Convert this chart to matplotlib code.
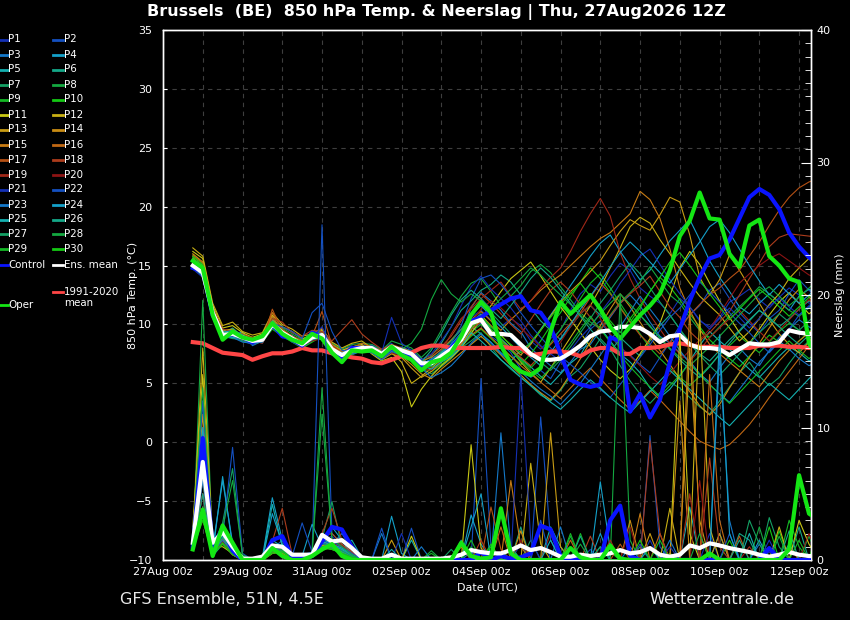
import numpy as np
import matplotlib
matplotlib.use("Agg")
import matplotlib.pyplot as plt
from matplotlib.lines import Line2D
from matplotlib.ticker import MultipleLocator

# ---------------- data ----------------
# time: days since 27Aug 00z; first value at 27Aug 18z, 6-hourly steps
t_first = 0.75
t_step = 0.25
date_ticks = [0, 2, 4, 6, 8, 10, 12, 14, 16]
date_labels = ["27Aug 00z", "29Aug 00z", "31Aug 00z", "02Sep 00z", "04Sep 00z",
               "06Sep 00z", "08Sep 00z", "10Sep 00z", "12Sep 00z"]

ens_mean_temp = [15.0,14.4,11.0,9.1,9.2,8.9,8.6,8.7,10.0,9.3,8.8,8.3,8.9,9.1,7.9,7.4,7.8,8.0,8.0,7.5,8.1,7.8,7.5,6.7,6.7,7.3,7.9,8.7,
                 10.1,10.4,9.2,9.2,9.1,8.3,7.5,7.0,7.0,7.1,7.6,8.2,9.0,9.4,9.5,9.8,9.8,9.7,9.2,8.5,9.0,9.1,8.3,8.0,8.0,7.9,7.4,7.9,8.4,8.3,8.3,8.5,9.5,9.3,9.2,9.2]
control_temp = [14.8,14.5,10.8,9.0,9.2,8.9,8.5,8.8,10.0,9.0,8.8,8.2,9.3,9.0,7.6,7.2,8.0,8.0,7.8,7.3,8.0,7.5,7.3,6.5,6.8,7.2,8.0,9.0,
                10.3,10.6,11.2,11.7,12.2,12.4,11.2,11.0,9.8,7.5,5.3,4.9,4.7,4.9,8.9,8.6,2.6,4.1,2.1,3.6,6.8,9.6,12.0,14.0,15.6,15.9,17.2,19.0,20.8,21.5,21.0,19.8,17.8,16.6,15.7,15.0]
oper_temp = [15.4,14.8,10.8,8.7,9.4,8.9,8.7,9.0,10.1,9.2,8.7,8.4,9.2,8.8,7.6,6.8,7.8,7.7,7.8,7.3,8.1,7.4,7.0,6.1,6.8,7.0,7.6,9.0,
             10.8,11.9,11.0,8.2,6.7,6.0,5.7,6.3,9.4,11.9,10.9,11.7,12.5,11.3,9.8,8.8,9.8,10.8,11.6,12.6,14.6,17.5,18.8,21.2,19.0,18.9,16.0,14.9,18.4,18.9,15.8,15.0,13.9,13.6,8.4,7.0]
clim_temp = [8.5,8.4,8.0,7.6,7.5,7.4,7.0,7.3,7.55,7.55,7.7,8.0,7.8,7.8,7.55,7.4,7.2,7.1,6.8,6.7,7.0,7.3,7.6,8.0,8.2,8.2,8.0,8.0,
             8.0,8.0,8.0,8.1,8.0,8.0,7.4,7.5,7.7,7.7,7.6,7.3,7.8,8.0,8.0,7.5,7.5,8.0,8.0,8.1,8.3,8.4,8.25,8.1,8.1,8.1,8.0,8.0,8.0,8.2,8.2,8.2,8.1,8.1,8.0,8.0]

ens_mean_prec = [1.3,7.4,1.3,2.1,1.0,0.1,0.1,0.25,1.1,1.0,0.4,0.4,0.4,1.9,1.4,1.5,0.9,0.2,
                 0.1,0.1,0.4,0.1,0.1,0.1,0.1,0.1,0.2,0.4,
                 0.75,0.6,0.5,0.5,0.75,1.1,0.75,0.9,0.6,0.25,
                 0.25,0.4,0.3,0.4,0.5,0.75,0.5,0.6,0.9,0.4,
                 0.25,0.4,1.1,0.9,1.26,1.1,0.9,0.75,0.6,0.4,
                 0.25,0.4,0.6,0.4,0.3,0.3]
control_prec = [1.0,9.2,1.0,2.4,0.7,0,0,0,1.5,1.8,0.2,0.2,0.3,1.4,2.5,2.3,1.0,0.1,
                0,0,0,0,0,0,0,0,0,0,
                0,0.6,0,0.3,0.1,0.2,0.5,2.6,2.3,0.3,
                0,0.1,0,0,3.0,4.1,0.3,0,0,0,
                0,0,0,0,0,0,0,0,0,0,
                0.9,0,0,0,0,0]
oper_prec = [0.8,3.8,0.3,2.6,1.3,0,0,0,0.9,0.3,0,0,0.3,0.8,1.2,0.3,0,0,
             0,0,0,0,0,0,0,0,0,1.3,
             0.3,0.1,0.2,3.9,0.5,0,0,0,0,0,
             0.9,0.2,0,0,1.1,0.1,0,0,0,0,
             0,0,0,0,0.5,0,0,0,0,0,
             0,0,0.8,6.4,3.5,3.0]

# members: 850 hPa temperature
p01_t = [15.2,14.6,10.8,9.3,8.9,9.1,8.4,8.9,9.8,9.5,8.6,8.5,9.4,8.7,7.6,7.8,8.2,7.6,8.3,7.9,8.4,7.5,7.1,6.2,6.9,7.8,8.6,9.5,
         10.6,11.2,10.4,9.8,10.5,9.9,8.6,7.9,8.8,9.5,11.2,12.6,13.4,12.8,14.1,15.2,14.6,13.1,12.4,11.8,10.9,12.2,11.5,10.3,9.8,10.6,11.9,12.4,13.0,12.1,11.4,12.3,13.1,12.5,11.8,12.0]
p02_t = [15.0,14.3,11.4,9.0,9.6,8.7,8.8,8.5,10.3,9.1,9.0,8.0,8.6,9.4,8.1,7.2,7.5,8.3,7.7,7.2,7.9,8.1,7.7,6.9,6.4,7.0,7.4,8.2,
         9.6,10.1,9.0,8.4,7.6,6.2,5.5,6.1,5.4,6.8,7.5,8.2,9.6,10.3,9.1,8.0,7.4,6.6,5.9,7.2,8.5,9.9,10.8,11.6,12.9,13.5,12.2,11.0,10.1,9.3,10.5,11.2,12.6,13.8,12.9,12.2]
p03_t = [15.5,14.9,10.6,8.8,9.0,9.4,8.2,8.6,10.4,9.6,8.5,8.6,9.1,8.8,7.7,7.5,7.6,8.2,8.1,7.4,8.3,7.7,7.3,6.5,7.1,7.6,8.2,9.1,
         11.4,12.7,12.0,11.2,10.1,9.4,8.0,7.2,6.5,5.9,6.8,7.9,8.3,9.5,10.6,11.8,12.5,11.6,10.2,9.0,8.4,7.6,6.9,5.8,5.1,6.3,7.4,8.0,7.1,6.5,7.8,8.9,9.6,10.4,9.8,9.3]
p04_t = [14.8,14.1,11.2,9.3,9.4,8.6,8.9,8.8,9.7,9.0,9.1,8.1,8.8,9.2,8.2,7.1,7.9,7.8,7.9,7.6,7.7,8.0,7.8,7.1,6.6,7.2,7.7,8.5,
         9.8,9.2,8.5,7.6,6.9,7.8,8.4,9.6,10.8,12.0,13.3,14.5,15.8,16.9,17.6,16.2,15.0,13.8,14.6,15.9,17.1,18.0,18.9,17.2,15.4,14.0,12.8,11.5,10.9,11.8,12.6,11.9,11.2,12.4,13.0,12.5]
p05_t = [15.3,14.7,11.0,9.6,9.1,8.8,8.7,8.4,10.1,9.4,8.7,8.4,9.0,8.9,7.8,7.6,7.7,7.9,7.8,7.3,8.0,7.6,7.4,6.6,6.9,7.5,8.1,8.9,
         10.2,10.9,9.6,8.8,8.0,7.1,6.4,5.6,4.9,5.8,6.7,7.4,8.9,9.7,8.6,7.5,6.8,5.9,4.6,3.8,4.5,5.6,6.9,8.2,9.4,8.6,7.9,7.0,6.2,5.5,6.4,7.3,8.1,7.6,6.9,7.4]
p06_t = [15.6,15.0,11.5,9.2,9.7,9.0,8.5,8.9,10.6,9.2,8.9,8.3,8.7,9.0,7.5,7.3,8.0,8.1,8.2,7.7,8.2,7.9,7.6,6.8,7.3,8.4,9.8,11.2,
         12.0,12.9,13.4,14.2,13.6,12.5,11.4,10.3,9.5,8.7,9.8,10.9,11.6,10.8,9.7,8.9,8.1,7.3,8.6,9.9,10.8,9.6,8.3,7.5,6.9,7.8,8.7,9.5,10.4,11.2,10.6,9.8,10.5,11.3,12.0,11.6]
p07_t = [14.9,14.2,10.9,9.0,8.8,8.7,8.3,8.6,9.9,9.5,8.6,8.2,8.8,9.3,8.0,7.7,7.4,7.8,8.0,7.2,7.8,7.4,7.0,6.3,5.8,6.4,7.1,8.0,
         8.6,9.3,8.1,7.0,6.2,5.5,4.8,4.0,3.5,4.4,5.6,6.3,7.5,8.8,7.9,6.5,5.2,4.1,3.3,4.2,5.1,4.6,3.8,3.0,2.4,3.5,4.7,5.9,6.8,5.6,4.8,5.5,6.7,7.8,8.6,8.0]
p08_t = [15.1,14.5,11.3,9.4,9.3,9.2,8.8,9.0,10.5,9.7,9.2,8.7,9.3,9.2,8.4,7.9,8.3,8.4,8.3,7.8,8.6,8.3,8.0,7.2,8.0,9.5,11.0,12.4,
         13.5,13.9,12.8,11.6,12.4,13.3,14.5,15.1,14.4,13.2,12.1,11.0,10.2,9.6,10.8,11.9,12.7,13.6,14.9,13.7,12.5,11.8,10.6,9.5,8.9,9.8,10.7,11.5,12.3,13.2,12.6,11.9,11.2,10.7,11.4,12.1]
p09_t = [15.4,14.8,11.1,9.1,9.5,8.9,8.6,8.7,10.2,9.3,8.8,8.5,9.1,8.9,7.7,7.4,7.9,8.0,8.1,7.4,8.1,7.8,7.4,6.6,6.5,7.0,7.6,8.3,
         9.4,10.0,9.3,8.5,7.8,7.0,6.3,7.2,8.4,9.6,10.8,12.2,13.5,14.3,13.1,11.8,10.5,9.2,8.0,7.1,6.3,5.5,4.8,5.6,6.5,7.4,8.2,9.0,8.3,7.6,8.5,9.4,10.1,9.5,8.8,9.3]
p10_t = [15.7,15.2,10.7,8.9,9.0,8.6,8.4,8.5,9.6,9.0,8.5,8.0,8.5,9.0,7.9,7.2,7.6,7.7,7.9,7.3,7.9,7.5,7.2,6.4,6.0,6.6,7.3,8.1,
         9.0,9.6,8.8,8.0,7.3,6.6,7.5,8.6,9.9,11.0,12.3,13.6,14.8,13.9,12.7,11.5,10.2,11.4,12.8,14.0,13.2,12.1,10.9,9.8,8.7,7.9,7.1,6.4,7.3,8.2,9.1,8.5,7.8,8.6,9.4,10.0]
p11_t = [16.2,15.6,11.6,9.7,9.9,9.3,8.9,9.2,10.8,9.8,9.4,8.8,9.0,9.5,8.3,7.8,8.1,8.3,7.5,6.9,7.2,6.0,3.0,4.5,5.6,6.5,7.2,8.0,
         9.2,10.5,11.6,12.8,13.9,14.6,15.3,14.1,12.8,11.5,10.4,9.3,8.1,7.0,6.1,5.4,6.2,7.5,8.8,10.1,12.4,14.8,16.2,15.1,13.5,12.0,10.6,9.3,8.4,9.6,10.8,11.9,12.7,11.8,10.9,11.5]
p12_t = [16.5,15.8,11.8,9.9,10.2,9.4,9.1,9.3,11.0,10.0,9.6,9.0,9.2,9.6,8.5,8.0,8.4,8.6,8.0,7.3,7.6,6.8,5.0,5.6,6.3,7.0,7.8,8.6,
         9.8,10.4,9.5,8.7,7.9,6.8,5.9,5.1,6.3,7.6,8.9,10.2,11.6,13.1,14.8,16.5,18.3,19.1,18.6,17.2,16.0,14.7,13.5,12.4,11.6,10.8,9.7,8.6,9.4,10.5,11.7,12.6,13.9,14.8,15.6,14.9]
p13_t = [16.0,15.3,11.3,9.5,9.6,9.0,8.7,8.8,10.4,9.5,9.0,8.6,8.9,9.2,8.1,7.6,7.8,8.1,7.7,7.0,7.5,7.2,6.3,5.5,6.0,6.8,7.5,8.3,
         9.5,10.8,9.9,9.1,8.2,7.4,8.3,9.5,10.7,11.9,12.8,13.6,14.5,15.4,16.7,17.9,18.9,18.4,18.0,19.3,20.8,20.4,17.6,14.0,12.5,13.8,15.9,14.6,13.2,11.8,10.4,9.2,8.3,7.6,8.5,9.7]
p14_t = [15.8,15.1,11.0,9.2,9.3,8.8,8.5,8.6,10.1,9.2,8.7,8.3,8.7,9.0,7.8,7.3,7.5,7.9,7.6,7.1,7.6,7.3,6.6,5.8,5.4,6.2,6.9,7.6,
         8.3,9.0,8.2,7.4,6.5,5.7,4.9,4.2,3.6,4.5,5.8,7.1,8.5,9.9,11.3,12.6,11.5,10.2,8.9,7.8,6.6,5.4,4.3,3.1,2.3,3.2,4.6,5.9,7.2,8.4,9.7,10.9,12.1,13.0,12.3,11.6]
p15_t = [15.6,14.9,10.9,9.1,9.0,8.9,8.6,9.0,10.7,9.4,8.9,8.4,9.1,9.3,8.0,7.5,7.9,8.2,7.8,7.4,7.8,7.7,7.4,6.9,7.2,7.9,8.7,9.6,
         10.4,11.1,10.3,9.5,10.4,11.2,12.0,12.9,13.6,14.2,15.0,15.8,16.6,17.3,17.8,18.6,19.4,21.3,20.6,19.0,16.4,13.1,11.2,9.6,8.3,7.5,6.8,6.1,5.4,4.7,5.8,6.9,7.8,8.6,9.3,9.9]
p16_t = [15.9,15.2,11.1,9.3,9.2,9.2,8.8,8.9,11.0,9.6,9.0,8.6,9.2,9.7,8.3,7.7,8.0,8.4,8.1,7.8,8.3,8.0,7.7,7.0,6.6,7.1,7.7,8.4,
         9.1,9.7,8.9,8.1,7.3,6.5,5.8,5.1,4.4,3.7,4.6,5.5,6.3,5.4,4.5,3.6,2.8,3.5,4.4,3.6,2.7,1.8,0.9,0.1,-0.3,-0.6,-0.2,0.6,1.5,2.6,3.8,4.9,6.0,7.1,8.2,8.9]
p17_t = [15.4,14.8,11.2,9.4,9.1,9.0,8.7,8.6,11.3,9.4,8.9,8.5,9.0,11.1,8.2,7.6,8.0,8.1,7.9,7.5,8.0,7.6,7.2,6.6,6.8,7.4,8.0,8.8,
         9.6,10.2,9.4,8.6,7.9,7.2,6.5,7.4,8.3,9.2,10.1,11.0,12.3,13.5,12.6,11.4,10.2,9.1,8.3,7.5,8.4,9.6,10.8,11.7,12.5,13.1,13.9,14.6,15.8,17.0,18.4,19.7,20.8,21.6,22.1,22.4]
p18_t = [15.2,14.6,11.4,9.6,9.4,9.1,8.9,8.7,10.5,10.2,9.3,9.0,9.5,9.4,8.6,9.5,10.4,9.2,8.5,7.9,8.2,7.9,7.6,7.0,7.4,8.1,9.0,10.3,
         11.5,12.6,11.8,10.9,10.0,9.2,10.4,11.7,12.9,13.6,12.8,11.7,10.6,9.5,10.7,11.8,12.6,13.3,14.1,12.8,11.5,10.6,9.4,8.6,9.3,10.2,11.1,12.5,13.9,15.2,16.6,17.4,17.7,17.6,17.5,17.4]
p19_t = [15.0,14.4,11.0,9.2,9.1,8.8,8.5,8.8,10.0,9.2,8.6,8.4,8.8,9.0,7.9,7.4,7.7,8.0,7.8,7.3,7.9,7.6,7.3,6.5,6.3,7.7,9.2,10.5,
         11.3,12.2,12.9,13.6,12.4,11.3,12.0,13.1,14.0,14.8,16.2,17.9,19.4,20.7,19.2,16.1,13.9,12.2,10.8,9.6,8.4,7.5,6.9,7.8,8.9,9.7,10.5,11.2,10.3,9.4,8.6,9.5,10.4,11.3,12.1,11.4]
p20_t = [15.3,14.5,10.8,9.0,9.2,8.7,8.6,8.4,9.9,9.0,8.7,8.2,8.6,8.8,7.8,7.3,7.6,7.9,7.6,7.1,7.6,7.3,7.0,6.2,6.1,6.9,7.8,8.8,
         10.1,11.3,12.0,11.4,10.6,9.7,8.9,8.1,7.4,8.5,9.8,10.9,11.7,10.5,9.2,8.1,7.3,6.5,5.6,4.9,5.8,6.9,7.8,8.7,9.6,10.9,12.2,13.5,14.3,15.0,15.6,16.0,15.4,14.8,14.2,13.9]
p21_t = [14.7,14.0,10.6,8.8,9.0,8.6,8.3,8.7,9.7,9.3,8.5,8.1,8.9,9.8,7.9,7.3,7.9,7.8,8.2,7.6,10.6,8.4,7.8,7.0,7.5,8.6,9.8,11.6,
         13.2,14.1,13.0,12.2,11.4,10.3,9.1,8.2,7.5,6.9,7.8,8.9,9.8,11.0,12.1,13.5,14.6,15.8,16.4,15.1,13.8,12.6,11.5,10.4,9.6,10.5,11.4,10.6,9.7,10.5,11.6,12.2,11.5,10.8,11.6,12.3]
p22_t = [15.1,14.3,11.2,9.2,9.3,9.0,8.6,8.9,10.1,9.8,9.4,8.8,11.0,11.8,9.4,7.8,7.7,8.1,7.9,7.5,8.0,7.8,7.5,6.9,6.5,7.3,8.4,9.9,
         12.2,13.9,14.2,13.4,12.3,11.0,9.9,8.9,8.0,7.3,6.6,5.9,5.1,4.5,3.8,4.9,6.0,7.2,8.3,9.5,10.6,11.4,12.5,13.6,12.8,11.9,11.0,10.1,9.3,8.4,7.6,8.5,9.6,10.8,11.5,12.1]
p23_t = [15.0,14.2,10.9,9.0,8.9,8.5,8.4,8.5,9.8,9.1,8.6,8.2,8.7,8.9,7.7,7.1,7.5,7.7,7.6,7.0,7.7,7.4,7.1,6.3,5.5,5.9,6.5,7.4,
         8.4,9.2,8.4,7.5,6.8,6.0,5.2,4.5,3.9,3.2,4.1,5.0,6.2,7.4,8.6,9.8,11.1,12.4,11.3,10.2,9.0,7.8,6.7,5.7,4.9,4.1,3.4,4.5,5.6,6.8,7.7,8.6,7.9,7.1,6.5,6.9]
p24_t = [15.2,14.5,11.1,9.3,9.5,9.1,8.7,8.8,10.2,9.4,8.9,8.4,9.0,9.1,7.9,7.6,7.9,8.0,8.0,7.5,8.1,7.8,7.5,6.7,7.0,7.6,8.3,9.3,
         10.8,11.6,10.7,9.8,8.9,8.0,7.2,6.5,7.6,8.8,10.0,11.3,12.4,13.6,14.9,16.1,17.0,16.2,15.3,14.4,13.5,14.7,15.9,17.0,18.3,18.9,17.8,16.4,15.0,13.7,12.5,13.4,12.6,11.8,12.5,13.2]
p25_t = [14.9,14.3,10.8,9.1,8.9,8.8,8.4,8.6,10.0,9.3,8.7,8.2,8.8,9.0,7.8,7.4,7.6,7.9,7.9,7.4,8.0,7.6,7.4,6.5,6.2,6.8,7.3,8.1,
         9.3,8.6,7.8,7.0,6.3,5.5,4.8,4.1,3.4,2.8,3.6,4.5,5.3,4.6,3.8,3.1,2.5,3.4,4.3,5.2,6.1,5.3,4.5,3.7,2.9,2.1,1.4,2.3,3.2,4.1,5.0,4.3,3.6,4.5,5.4,6.2]
p26_t = [15.5,14.8,11.0,9.4,9.2,8.9,8.8,8.7,10.3,9.4,8.8,8.3,9.0,9.2,8.0,7.5,7.8,8.0,8.0,7.5,8.0,7.8,7.6,6.8,7.8,9.2,10.8,12.1,
         12.9,12.2,11.3,10.5,11.6,12.7,13.9,14.8,14.0,12.9,11.8,10.7,9.6,8.6,7.7,8.8,9.9,10.8,9.9,8.8,7.9,7.0,6.2,5.5,6.4,7.5,8.4,9.4,10.3,11.2,10.5,9.8,9.0,8.3,9.1,9.9]
p27_t = [15.1,14.4,10.7,8.9,9.1,8.6,8.5,8.8,9.9,9.1,8.7,8.3,8.7,9.1,7.8,7.3,7.9,8.1,7.8,7.4,8.1,7.7,7.3,6.6,6.9,7.7,8.6,9.6,
         10.9,11.8,11.0,10.1,9.2,8.4,7.6,6.8,6.1,7.0,8.1,9.3,10.5,11.8,12.9,14.1,15.2,14.3,13.1,11.9,10.8,9.6,8.5,7.4,6.5,5.7,6.6,7.5,8.4,9.3,10.1,10.9,10.2,9.5,10.3,11.0]
p28_t = [15.3,14.7,11.2,9.2,9.4,9.0,8.7,8.6,10.1,9.3,8.8,8.4,9.0,9.2,7.8,7.5,7.8,8.0,7.9,7.5,8.2,7.9,8.4,9.6,12.1,13.8,12.6,11.9,
         12.6,12.0,11.3,12.2,13.0,13.9,14.8,14.2,13.3,12.5,11.7,10.8,9.9,10.9,11.8,12.6,11.7,10.8,9.8,8.9,8.0,7.2,6.5,7.3,8.1,9.0,9.9,10.8,11.7,12.6,13.2,12.4,11.6,12.3,13.1,13.8]
p29_t = [15.0,14.4,11.0,9.2,9.1,8.8,8.5,8.7,9.9,9.2,8.7,8.2,8.8,9.0,7.8,7.3,7.8,7.9,8.1,7.5,8.1,7.8,7.4,6.6,6.4,7.1,7.8,8.6,
         9.7,10.5,9.6,8.7,7.8,6.9,6.1,5.4,6.3,7.3,8.4,9.6,10.7,9.6,8.5,7.4,6.4,5.5,4.7,3.9,4.8,5.7,6.7,5.8,4.9,4.1,3.3,4.2,5.1,6.0,6.9,7.8,8.6,7.8,7.1,7.7]
p30_t = [15.8,15.1,11.0,9.0,9.3,8.9,8.6,8.8,10.0,9.3,8.8,8.3,8.9,9.1,7.9,7.4,7.8,8.0,8.0,7.5,8.1,7.8,7.5,6.7,6.7,7.4,8.0,8.8,
         10.0,10.7,9.8,9.0,8.3,7.6,8.5,9.5,10.6,11.7,12.6,13.5,12.4,11.3,10.3,9.3,10.5,11.6,12.8,14.0,15.3,16.1,15.0,13.8,12.6,11.5,10.4,11.3,12.2,13.0,12.3,11.5,10.7,11.5,12.3,13.1]

# members: precipitation (mm)
p01_p = [1.2,4,0.8,1.5,0.6,0,0,0.2,1.0,1.2,0.3,0.2,0.4,1.5,1.8,1.0,0.5,0, 0,0,0.3,0,0,0,0,0,0,0, 0,0.5,0,0,0,1.2,0,0,0,0, 0,0,0.8,0,0,0,0,0,1.5,0, 0,0,0,0,2.0,0,0,0,0,0, 0.6,0,0,0,0,0]
p02_p = [1.0,6,0.5,2.0,1.0,0,0,0,0.8,1.5,0.2,0.4,0.6,25.3,2.0,1.2,0.6,0, 0,0,0,0,2.4,0,0,0,0,0, 0,13.7,1.0,0,0,0,0,10.8,1.5,0, 0,0,0,0,0,0,0,0,9.4,1.0, 0,0,0,0,0,0,0,0,0,0, 0,0,0,0,0,0]
p03_p = [1.5,9,1.2,2.5,0.8,0,0.1,0,1.2,0.8,0.5,0.2,0.3,1.8,1.2,2.0,0.8,0.1, 0,2.0,0,0,0,0,0,0,0,0, 0.6,0,0,9.6,0.8,0,0,0,0,0, 0,0,0,0,0,0,1.0,0,0,0, 0,0,0,0,0,15.5,3.0,0,0,0, 0,0,0,0,0,0]
p04_p = [0.8,7,0.5,6.3,1.0,0,0,0.2,4.7,1.5,0.2,0.3,2.7,1.0,2.5,1.5,0.4,0, 0,0,3.3,0.5,0,0,0,0,0,0, 3.4,1.2,0,0,0,0,0,0,0,0, 0,0,0,5.9,0.8,0,0,0,0,0, 0,0,0,0,0,0,0,0,0,1.5, 0,0,0,0,0,0]
p05_p = [2.0,12,1.5,1.8,0.5,0,0,0,1.5,1.0,0.3,0.1,0.5,1.2,1.5,0.8,1.5,0.2, 0,0,0,0,1.5,0,0,0,0,0, 0,0,0,0,0,0,0,0,2.5,1.0, 0,0,0,0,0,0,0,0,0,0, 0,0,4.0,0,0,2.0,0,0,0,0, 0,0,1.2,0,0,0]
p06_p = [1.0,5,0.3,1.2,0.4,0,0,0,0.6,0.8,0.1,0,0.2,0.8,1.0,0.5,0.3,0, 0,0,0,0,0,0,0,0,0,1.5, 0,0,0,0,0,2.5,0,0,0,0, 0,0,0,1.0,0,0,0,0,0,0, 0,0,0,0,0,0,0,2.0,1.5,0, 0,0,0,2.5,0,0]
p07_p = [1.5,10,1.0,2.8,6.9,0.3,0,0,1.0,0.6,0.2,0.1,0.3,1.6,4.4,1.0,0.5,0, 0,0,0,0,0,0,0,0,0.8,0, 0,0,0,0,0,0,1.5,0,0,0, 0,0,0,0,0,0,0,1.0,0,0, 0,0,0,0,0,0,0,0,0,0, 3.2,1.0,0,0,0,0]
p08_p = [1.0,19.6,0.8,2.0,1.2,0,0,0,0.8,1.2,0.3,0.2,0.5,13.0,1.5,0.8,0.4,0, 0,0,0,0,0,0,0,0,0,0, 1.0,0,0,0,0,0,0,0,0,0, 1.8,0,0,0,0,20.0,1.5,0,0,0, 0,0,0,0,0,0,0,0,0,2.5, 0,0,0,0,1.8,0]
p09_p = [1.2,8,0.6,1.6,0.8,0,0,0,0.9,0.7,0.2,0,0.3,1.0,1.2,0.6,0.3,0, 0,0,0,0,0,0,0.5,0,0,0, 0,0,0,0,1.0,0,0,0,0,0, 0,2.0,0,0,0,0,0,0,0,0, 0.5,0,0,0,0,0,0,0,0,0, 0,0,3.0,1.0,0,0]
p10_p = [1.8,6,0.5,2.2,0.9,0,0,0,1.0,0.8,0.2,0.1,0.4,1.3,0.9,0.7,0.2,0, 0,0,0,0,0,0,0,0,0,0, 0,0,1.2,0,0,0,0,0,0,0, 0,0,0,0,0.6,0,0,0,0,0, 0,0,0,0,0,0,1.5,0,0,0, 0,2.2,0,0,0,0]
p11_p = [2.5,14,1.0,1.0,0.5,0,0,0,0.5,0.7,0.1,0,0.2,0.9,1.1,0.5,0.2,0, 0,0,0,0,1.8,0,0,0,0,0, 8.7,0.9,0,0,0,0,0,0,0,0, 0,0,0,0,0,0,0,0,0,0, 0,17.0,2.0,0,0,0,0,0,0,0, 0,0,0,3.0,1.2,0]
p12_p = [1.5,16,1.2,1.4,0.6,0,0,0,0.7,0.5,0.2,0,0.3,1.0,0.8,0.6,0.2,0, 0,0,0,0,0,0,0,0,0,0, 0,0,0,0,0,0,7.3,1.2,0,0, 0,0,0,0,0,0,0,0,0,0, 3.9,0,0,18.5,2.5,0,0,0,0,0, 0,2.5,0,0,0,0]
p13_p = [1.2,11,0.7,1.9,0.7,0,0,0,0.8,0.6,0.2,0,0.4,1.1,1.0,0.8,0.3,0, 0,0,1.5,0,0,0,0,0,0,0, 0,0,0,0,0,0,0,0,9.6,1.0, 0,0,0,0,0,0,0,0,2.0,0, 0,0,16.0,3.0,0,0,0,0,0,0, 0,0,0,0,0,2.0]
p14_p = [1.0,9,0.6,1.5,0.5,0,0,0,0.6,0.5,0.1,0,0.2,0.8,0.9,0.6,0.2,0, 0,0,0,0,0,0,0,0,0,1.0, 0,0,0,0,0,2.2,0,0,0,0, 0,0,0,0,0,0,3.0,0,0,0, 0,12.0,0,0,0,2.0,0,0,0,0, 0,0,0,0,0,0]
p15_p = [0.9,5,0.5,1.3,0.4,0,0,0,0.5,0.6,0.2,0,0.3,1.2,1.0,0.5,0.2,0, 0,0,0,0,0,0,0,0,0,0, 0,0,0,0,6.0,1.0,0,0,0,0, 0,0,0,0,0,0,0,3.5,0,0, 0,0,19.0,2.0,0,0,0,0,0,0, 0,0,0,0,0,0]
p16_p = [1.3,7,0.8,2.1,0.7,0,0,0,0.9,0.9,0.3,0.1,0.5,1.5,1.3,1.0,0.3,0, 0,0,0,0,0,0,0,0,0,0, 0,0,0,2.5,0,0,0,0,0,0, 1.5,0,0,0,0,0,0,0,0,2.0, 0,0,0,0,14.0,3.0,0,0,0,0, 0,0,1.0,0,0,0]
p17_p = [1.0,4,0.6,1.6,0.5,0,0,0,1.0,1.0,0.2,0.1,0.4,1.8,2.0,1.2,0.5,0, 0,0,0,0,0,0,0,0,0,0, 0,0,4.0,0.8,0,0,0,0,0,0, 0,0,0,0,0,1.2,0,0,0,0, 0,0,0,0,0,0,0,1.8,0,0, 0,0,0,0,0,0]
p18_p = [1.4,6,0.9,2.4,0.8,0,0,0.3,1.4,3.9,0.4,0.2,0.5,2.0,3.9,1.5,0.6,0.1, 0,0,0,0,0,0,0,0,0,0, 0,1.5,0,0,0,0,0,0,0,0, 0,0,1.8,0,0,0,0,0,9.0,2.0, 0,0,0,0,7.7,1.0,0,0,0,0, 0,0,0,0,0,0]
p19_p = [1.1,3,0.5,1.2,0.4,0,0,0,0.7,0.8,0.2,0,0.3,1.4,1.6,1.1,0.4,0, 0,0,0,0,0,0,0,0,0,0, 0,0,0,0,0,0,0,0,2.0,0, 0,0,0,0,1.5,0,0,0,0,0, 0,0,5.0,0,0,0,0,0,1.0,0, 0,0,0,0,0,0]
p20_p = [1.0,5,0.6,1.4,0.5,0,0,0,0.8,0.9,0.2,0,0.3,1.2,1.3,0.9,0.3,0, 0,0,0,0,0,0,0,0,0,0, 0,0,0,0,0,1.5,0,0,0,0, 0,0,0,0,0,0,2.5,0,0,0, 0,0,0,6.0,0,0,0,0,0,0, 0,0,0,0,2.0,0]
p21_p = [1.5,8,1.0,2.0,1.0,0,0,0,1.0,1.0,0.3,0.2,0.4,1.5,1.2,0.8,0.4,0, 0,0,0,2.0,0,0,0,0,0,0, 0,0,0,0,0,14.0,1.5,0,0,0, 0,0,0,0,0,0,0,0,0,0, 1.0,0,0,0,0,0,0,0,0,0, 1.5,0,0,0,0,0]
p22_p = [1.3,12,0.9,1.8,8.5,0.5,0,0,1.2,1.0,0.3,2.8,0.6,1.7,1.4,1.0,0.5,0, 0,2.4,0,0,0,0,0,0,0,0, 0,0,0,0,0,0,0,3.0,0,0, 0,0,0,0,0,0,0,1.2,0,0, 0,0,0,0,0,0,2.0,0,0,0, 0,0,0,0,0,0]
p23_p = [1.0,6,0.6,1.5,0.6,0,0,0,0.9,0.7,0.2,0,0.4,1.3,1.0,0.7,0.3,0, 0,0,0,0,0,1.0,0,0,0,0, 0,0,0,0,0,0,0,0,0,2.5, 0,0,0,0,0,0,0,0,0,0, 1.5,0,0,0,0,0,0,0,0,1.2, 0,0,0,0,0,0]
p24_p = [1.6,10,0.9,6.0,1.3,0,0,0,3.5,1.2,0.3,0.2,0.5,1.6,1.2,0.9,0.4,0, 0,0,0,0,0,0,0,0,0,0, 2.5,5.0,0,0,0,0,0,0,0,0, 0,0,0,2.0,0,0,0,0,0,0, 0,0,0,0,0,17.0,2.0,0,0,0, 0,0,0,0,0,0]
p25_p = [1.2,7,0.7,2.2,0.8,0,0,0,4.2,1.0,0.2,0.1,0.6,1.4,1.1,0.8,0.3,0, 0,0,0.8,0,0,0,0,0,0,0, 0,0,0,0,0,0,0,0,1.5,0, 0,0,0,0,0,0,0,0,1.0,0, 0,0,0,0,0,0,0,0,2.0,0, 0,0,0,0,0,0]
p26_p = [1.0,5,0.5,1.7,0.6,0,0,0,0.7,0.6,0.2,0,0.3,1.0,0.9,0.6,0.2,0, 0,0,0,0,0,0,0,0,0,0, 0,0,0,0,1.0,0,0,0,0,0, 0,1.8,0,0,0,0,0,0,0,0, 0,0,0,0,0,0,0,1.5,0,0, 0,0,2.2,0,0,0]
p27_p = [1.3,9,0.8,1.9,0.7,0,0,0,0.9,0.8,0.2,0.1,0.3,1.2,1.0,0.7,0.3,0, 0,0,0,0,0,0,0,0,0,1.2, 0,0,0,0,0,0,0,0,0,0, 0,0,0,1.0,0,0,0,0,0,0, 0,0,0,0,0,0,0,0,3.0,1.2, 0,0,0,0,0,0]
p28_p = [1.7,13,1.0,2.4,6.0,0.4,0,0,1.1,1.0,0.3,0.1,0.5,11.0,1.6,1.0,0.4,0, 0,0,0,0,0,0,0.7,0,0,0, 0,0,0,0,0,0,0,0,0,0, 0,1.2,0,0,0,0,0,0,0,0, 0,0,0,2.0,0,0,0,0,0,0, 0,1.8,0,0,0,0]
p29_p = [0.9,4,0.5,1.3,0.5,0,0,0,0.6,0.7,0.2,0,0.2,1.0,0.8,0.5,0.2,0, 0,0,0,0,0,0,0,0,0,0, 1.5,0,0,0,0,0,0,0,0,0, 2.0,0,0,0,0,0,0,0,0,1.5, 0,0,0,0,0,0,0,0,0,0, 0,0,0,1.5,0,0]
p30_p = [0.8,3,0.4,1.2,0.4,0,0,0,0.5,0.6,0.1,0,0.2,0.9,0.8,0.5,0.2,0, 0,0,0,0,0,0,0,0,0,0, 0,0,1.0,0,0,0,0,0,0,0, 0,0,0,0,0,0,0,1.5,0,0, 0,0,0,0,0,0,0,0,0,0, 2.5,0,0,0,0,3.0]

member_names = ["P%d" % k for k in range(1, 31)]
member_temps = [p01_t,p02_t,p03_t,p04_t,p05_t,p06_t,p07_t,p08_t,p09_t,p10_t,
                p11_t,p12_t,p13_t,p14_t,p15_t,p16_t,p17_t,p18_t,p19_t,p20_t,
                p21_t,p22_t,p23_t,p24_t,p25_t,p26_t,p27_t,p28_t,p29_t,p30_t]
member_precs = [p01_p,p02_p,p03_p,p04_p,p05_p,p06_p,p07_p,p08_p,p09_p,p10_p,
                p11_p,p12_p,p13_p,p14_p,p15_p,p16_p,p17_p,p18_p,p19_p,p20_p,
                p21_p,p22_p,p23_p,p24_p,p25_p,p26_p,p27_p,p28_p,p29_p,p30_p]

# ---------------- style ----------------
base_colors = ['#1430b4', '#1450c0', '#1478c8', '#14a0c8', '#14b0b0', '#14a888',
               '#14a064', '#14a840', '#14b824', '#14c814', '#c8c814', '#c8b014',
               '#c89c14', '#c88c14', '#c87c14', '#c06814', '#b45014', '#ac3c1c',
               '#a02818', '#8c1414']
member_colors = base_colors + base_colors[:10]
C_CONTROL = '#0a14ff'
C_OPER = '#14e614'
C_MEAN = '#ffffff'
C_CLIM = '#ff4646'
GRID = '#3e3e3e'
FG = 'white'

def tx(vals):
    return t_first + t_step * np.arange(len(vals))

fig = plt.figure(figsize=(8.5, 6.2), dpi=100, facecolor='black')
ax = fig.add_axes([163/850, 60/620, 648/850, 530/620])
ax.set_facecolor('black')
ax2 = ax.twinx()

# temperature members
for vals, col in zip(member_temps, member_colors):
    ax.plot(tx(vals), vals, color=col, lw=0.8, zorder=2)
ax.plot(tx(clim_temp), clim_temp, color=C_CLIM, lw=3, zorder=3)
ax.plot(tx(control_temp), control_temp, color=C_CONTROL, lw=3, zorder=4)
ax.plot(tx(ens_mean_temp), ens_mean_temp, color=C_MEAN, lw=3, zorder=5)
ax.plot(tx(oper_temp), oper_temp, color=C_OPER, lw=3, zorder=6)

# precipitation members
for vals, col in zip(member_precs, member_colors):
    ax2.plot(tx(vals), vals, color=col, lw=0.8, zorder=2)
ax2.plot(tx(control_prec), control_prec, color=C_CONTROL, lw=3, zorder=4)
ax2.plot(tx(ens_mean_prec), ens_mean_prec, color=C_MEAN, lw=3, zorder=5)
ax2.plot(tx(oper_prec), oper_prec, color=C_OPER, lw=3, zorder=6)

# axes limits / ticks
ax.set_xlim(0, 16.30)
ax.set_ylim(-10, 35)
ax2.set_ylim(0, 40)
ax.set_xticks(date_ticks)
ax.set_xticklabels(date_labels)
ax.xaxis.set_minor_locator(MultipleLocator(1))
ax.set_yticks(np.arange(-10, 36, 5))
ax2.set_yticks(np.arange(0, 41, 10))
ax2.yaxis.set_minor_locator(MultipleLocator(1))

ax.tick_params(axis='x', which='both', length=0, colors=FG, labelsize=8, pad=5)
ax.tick_params(axis='y', which='both', direction='in', length=3, colors=FG, labelsize=8, pad=8)
ax2.tick_params(axis='y', which='major', direction='in', length=7, colors=FG, labelsize=8, pad=4)
ax2.tick_params(axis='y', which='minor', direction='in', length=4, colors=FG)

ax.grid(True, which='both', axis='x', color=GRID, lw=0.8, linestyle=(0, (4, 4)))
ax.grid(True, which='major', axis='y', color=GRID, lw=0.8, linestyle=(0, (4, 4)))
ax.set_axisbelow(True)

for a in (ax, ax2):
    for s in a.spines.values():
        s.set_color(FG)
        s.set_linewidth(1.0)

ax.set_ylabel("850 hPa Temp. (°C)", color=FG, fontsize=8, labelpad=-7)
ax2.set_ylabel("Neerslag (mm)", color=FG, fontsize=8, labelpad=3)
ax.set_xlabel("Date (UTC)", color=FG, fontsize=8, labelpad=4)

# title and footer
fig.text(436/850, 1 - 12/620, "Brussels  (BE)  850 hPa Temp. & Neerslag | Thu, 27Aug2026 12Z",
         color=FG, fontsize=11.5, fontweight='bold', ha='center', va='center')
fig.text(120/850, 1 - 599/620, "GFS Ensemble, 51N, 4.5E", color='#e8e8e8', fontsize=11.5,
         ha='left', va='center')
fig.text(794/850, 1 - 599/620, "Wetterzentrale.de", color='#e8e8e8', fontsize=11.5,
         ha='right', va='center')

# legend (drawn manually in figure pixels)
def leg_line(x0, x1, y, col):
    fig.add_artist(Line2D([x0/850, x1/850], [1 - y/620, 1 - y/620], color=col, lw=2,
                          transform=fig.transFigure))

def leg_text(x, y, s):
    fig.text(x/850, 1 - y/620, s, color=FG, fontsize=7.4, ha='left', va='center')

for k in range(15):
    y = 39.5 + 15 * k
    i1, i2 = 2 * k, 2 * k + 1
    leg_line(0, 8, y, member_colors[i1])
    leg_text(8, y, member_names[i1])
    leg_line(53, 63, y, member_colors[i2])
    leg_text(64, y, member_names[i2])
y = 39.5 + 15 * 15
leg_line(0, 8, y, C_CONTROL); leg_text(8, y, "Control")
leg_line(53, 63, y, C_MEAN); leg_text(64, y, "Ens. mean")
leg_line(53, 63, 292, C_CLIM); leg_text(64, 292, "1991-2020"); leg_text(64, 303, "mean")
leg_line(0, 8, 305, C_OPER); leg_text(8, 305, "Oper")

fig.savefig("out.png", dpi=100, facecolor='black')
